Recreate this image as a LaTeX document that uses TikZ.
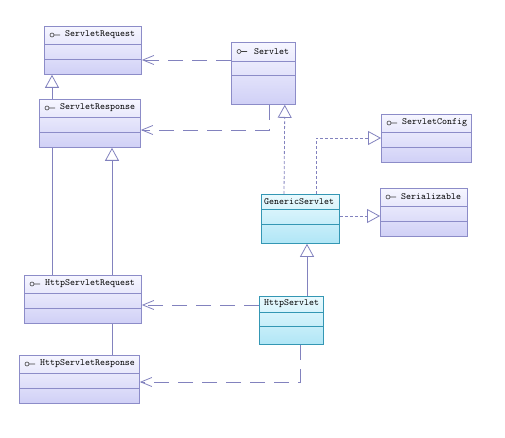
\documentclass[tikz,border=0pt]{standalone}
\usetikzlibrary{arrows.meta,backgrounds}

\definecolor{ifaceborder}{HTML}{8C8CC8}
\definecolor{ifacetop}{HTML}{F6F6FF}
\definecolor{ifacebottom}{HTML}{D0D0F6}
\definecolor{clsborder}{HTML}{3497B4}
\definecolor{clstop}{HTML}{EAFAFE}
\definecolor{clsbottom}{HTML}{B0E6F6}
\definecolor{linkcol}{HTML}{8282BE}

\tikzset{
  iface/.style={draw=ifaceborder, line width=0.8pt, top color=ifacetop, bottom color=ifacebottom, inner sep=0pt},
  cls/.style={draw=clsborder, line width=0.8pt, top color=clstop, bottom color=clsbottom, inner sep=0pt},
  iface line/.style={draw=ifaceborder, line width=0.8pt},
  cls line/.style={draw=clsborder, line width=0.8pt},
  classname/.style={inner sep=0pt, anchor=west, font=\fontsize{9.5}{11}\selectfont\ttfamily},
  dep/.style={draw=linkcol, line width=0.8pt, dash pattern=on 15pt off 9pt,
    -{Straight Barb[length=11pt,width=9pt]}},
  real/.style={draw=linkcol, line width=0.8pt, dash pattern=on 3pt off 2pt,
    -{Triangle[open,length=13pt,width=14pt]}},
  inherit/.style={draw=linkcol, line width=0.8pt,
    -{Triangle[open,length=13pt,width=14pt]}}
}

% #1 name, #2 style, #3 top left, #4 width, #5 header, #6 middle, #7 height, #8 text offset, #9 text
\newcommand{\umlbox}[9]{%
  \node[#2, anchor=north west, minimum width=#4pt, minimum height=#7pt] (#1) at #3 {};
  \draw[#2 line] ([yshift=-#5pt]#1.north west) -- ([yshift=-#5pt]#1.north east);
  \draw[#2 line] ([yshift={-(#5+#6)*1pt}]#1.north west) -- ([yshift={-(#5+#6)*1pt}]#1.north east);
  \node[classname] (#1-name) at ([xshift=#8pt, yshift={-#5/2*1pt}]#1.north west) {#9};
}
% lollipop in the header
\newcommand{\lolli}[2]{%
  \draw[iface line, draw=black!75, line width=0.6pt] ([xshift=8pt, yshift={-#2/2*1pt}]#1.north west) circle (2pt)
    ++(2pt,0) -- ++(6pt,0);
}

\begin{document}
\begin{tikzpicture}[x=1pt, y=-1pt]
  \useasboundingbox (0,0) rectangle (505,438);

  % interfaces
  \umlbox{sreq}{iface}{(44,26)}{97}{18}{15}{48}{21}{ServletRequest}
  \lolli{sreq}{18}
  \umlbox{srv}{iface}{(231,42)}{64}{19}{14}{62}{23}{Servlet}
  \lolli{srv}{19}
  \umlbox{sresp}{iface}{(39,99)}{101}{18}{15}{48}{21}{ServletResponse}
  \lolli{sresp}{18}
  \umlbox{scfg}{iface}{(381,114)}{90}{18}{15}{48}{21}{ServletConfig}
  \lolli{scfg}{18}
  \umlbox{ser}{iface}{(380,188)}{87}{18}{15}{48}{21}{Serializable}
  \lolli{ser}{18}
  \umlbox{hreq}{iface}{(24,275)}{117}{18}{15}{48}{21}{HttpServletRequest}
  \lolli{hreq}{18}
  \umlbox{hresp}{iface}{(19,355)}{120}{18}{15}{48}{21}{HttpServletResponse}
  \lolli{hresp}{18}

  % classes
  \umlbox{gen}{cls}{(261,194)}{78}{15}{15}{49}{3}{GenericServlet}
  \umlbox{hsrv}{cls}{(259,296)}{64}{16}{14}{48}{5}{HttpServlet}

  % dependencies
  \draw[dep] ([yshift=-18pt]srv.north west) -- ([yshift=-34pt]sreq.north east);
  \draw[dep] ([xshift=38pt]srv.south west) |- ([yshift=-31pt]sresp.north east);
  \draw[dep] ([yshift=-9pt]hsrv.north west) -- ([yshift=-30pt]hreq.north east);
  \draw[dep] ([xshift=41pt]hsrv.south west) |- ([yshift=-27pt]hresp.north east);

  % realizations
  \draw[real] ([xshift=23pt]gen.north west) -- ([xshift=-11pt]srv.south east);
  \draw[real] ([xshift=55pt]gen.north west) |- ([yshift=-24pt]scfg.north west);
  \draw[real] ([yshift=-22pt]gen.north east) -- ([yshift=-28pt]ser.north west);

  % generalizations
  \draw[inherit] ([xshift=48pt]hsrv.north west) -- ([xshift=46pt]gen.south west);
  \begin{scope}[on background layer]
    \draw[inherit] ([xshift=28pt]hreq.north west) -- ([xshift=8pt]sreq.south west);
    \draw[inherit] ([xshift=93pt]hresp.north west) -- ([xshift=73pt]sresp.south west);
  \end{scope}
\end{tikzpicture}
\end{document}
